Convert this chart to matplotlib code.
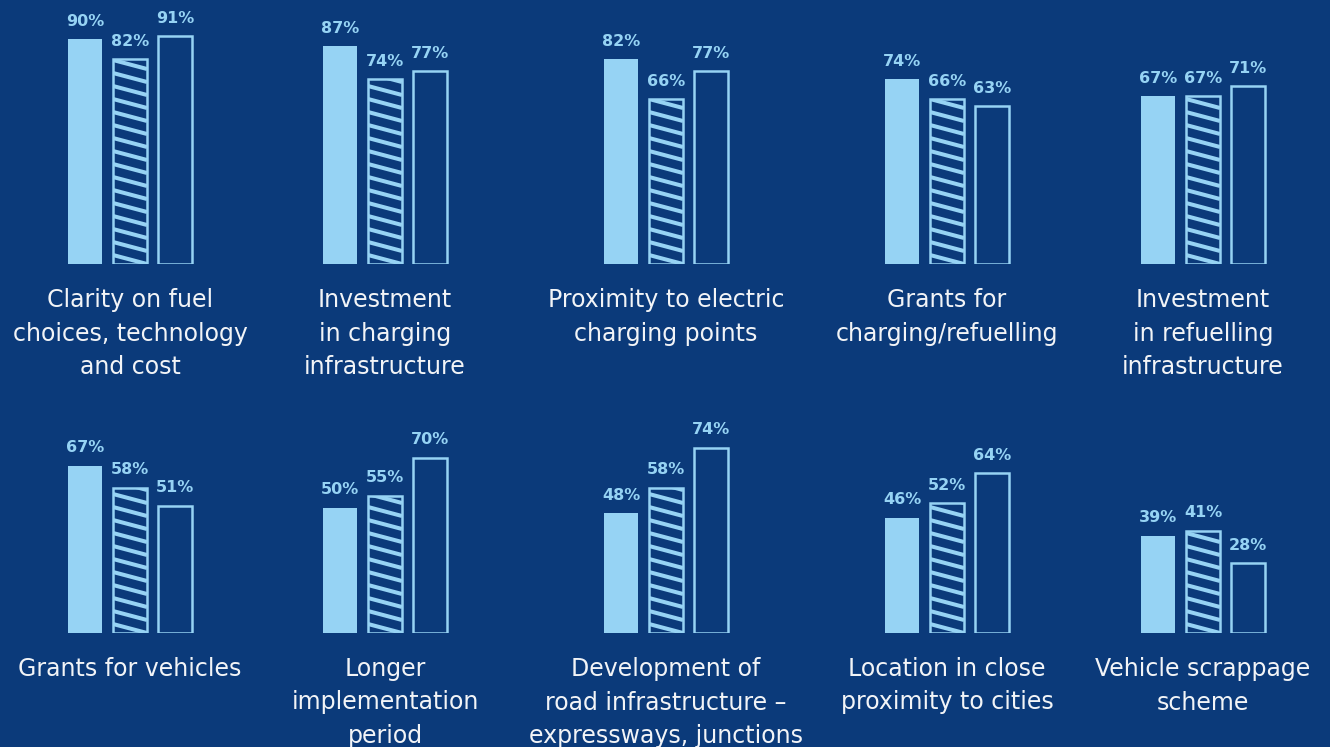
import numpy as np
import matplotlib
matplotlib.use("Agg")
import matplotlib.pyplot as plt

plt.rcParams["font.family"] = ["DejaVu Sans"]

BG = "#0B3A7A"
LIGHT = "#96D3F4"
TEXT = "#F2F4F7"

categories = [
    "Clarity on fuel\nchoices, technology\nand cost",
    "Investment\nin charging\ninfrastructure",
    "Proximity to electric\ncharging points",
    "Grants for\ncharging/refuelling",
    "Investment\nin refuelling\ninfrastructure",
    "Grants for vehicles",
    "Longer\nimplementation\nperiod",
    "Development of\nroad infrastructure –\nexpressways, junctions",
    "Location in close\nproximity to cities",
    "Vehicle scrappage\nscheme",
]
series_solid = [90, 87, 82, 74, 67, 67, 50, 48, 46, 39]
series_hatch = [82, 74, 66, 66, 67, 58, 55, 58, 52, 41]
series_outline = [91, 77, 77, 63, 71, 51, 70, 74, 64, 28]

W, H = 1330, 747
fig = plt.figure(figsize=(W / 100, H / 100), dpi=100, facecolor=BG)

col_centers = [130, 385, 666, 947, 1203]   # px
row_baselines = [264, 633]                 # px from top
ax_w, ax_h = 135, 250                      # 3 bar slots x 45px, 100% = 250px
bar_w = 34 / 45

for i, cat in enumerate(categories):
    r, c = divmod(i, 5)
    left = (col_centers[c] - ax_w / 2) / W
    bottom = (H - row_baselines[r]) / H
    ax = fig.add_axes([left, bottom, ax_w / W, ax_h / H])
    ax.set_xlim(-1.5, 1.5)
    ax.set_ylim(0, 100)
    ax.axis("off")

    vals = [series_solid[i], series_hatch[i], series_outline[i]]
    ax.bar(-1, vals[0], width=bar_w, color=LIGHT, linewidth=0)
    hb = ax.bar(0, vals[1], width=bar_w, facecolor=BG, edgecolor=LIGHT, linewidth=1.8)[0]
    ax.bar(1, vals[2], width=bar_w, facecolor=BG, edgecolor=LIGHT, linewidth=1.8)

    # shallow diagonal stripes, clipped to the hatched bar
    x0, x1 = -bar_w / 2, bar_w / 2
    for y in np.arange(0, vals[1] + 10, 5.2):
        ln, = ax.plot([x0, x1], [y + 3.6, y], color=LIGHT, lw=2.9,
                      solid_capstyle="butt")
        ln.set_clip_path(hb)

    for x, v in zip([-1, 0, 1], vals):
        ax.text(x, v + 4.2, f"{v}%", ha="center", va="bottom", color=LIGHT,
                fontsize=11.5, fontweight="bold")

    fig.text(col_centers[c] / W, 1 - (row_baselines[r] + 24) / H, cat,
             ha="center", va="top", color=TEXT, fontsize=17, linespacing=1.5)

fig.savefig("out.png", dpi=100, facecolor=BG)
